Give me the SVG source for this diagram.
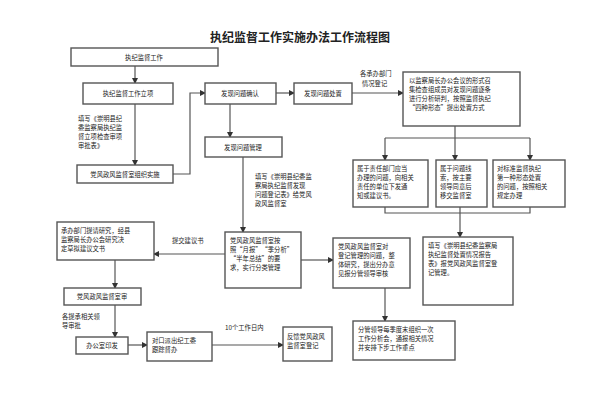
<svg xmlns="http://www.w3.org/2000/svg" width="600" height="400" viewBox="0 0 600 400">
<style>
.b{fill:#fff;stroke:#555;stroke-width:1.4}
text{font-family:"Noto Sans CJK SC","Noto Sans",sans-serif;font-size:6.3px;fill:#222}
.c{stroke:#555;stroke-width:1.2;fill:none;marker-end:url(#a)}
.l{stroke:#555;stroke-width:1.2;fill:none}
</style>
<defs><marker id="a" markerWidth="6" markerHeight="6" refX="5" refY="3" orient="auto" markerUnits="userSpaceOnUse"><path d="M0,0L6,3L0,6z" fill="#333"/></marker></defs>
<rect width="600" height="400" fill="#fff"/>
<text x="300" y="42" text-anchor="middle" style="font-size:12px;font-weight:bold;font-family:'Noto Sans CJK SC',serif">执纪监督工作实施办法工作流程图</text>
<g id="connectors">
<path class="c" d="M135,66V83"/>
<path class="c" d="M135,104V165"/>
<path class="c" d="M173,174H190V93H205"/>
<path class="c" d="M276,93H294"/>
<path class="c" d="M352,93H403"/>
<path class="l" d="M455,126V138M385,138H530"/>
<path class="c" d="M385,138V160"/><path class="c" d="M455,138V160"/><path class="c" d="M530,138V160"/>
<path class="l" d="M385,207V213H530V207M460,207V213"/>
<path class="c" d="M460,213V237"/>
<path class="c" d="M230,104V137"/>
<path class="c" d="M243,157V232"/>
<path class="c" d="M225,254H154"/>
<path class="c" d="M301,260H333"/>
<path class="c" d="M385,288V321"/>
<path class="c" d="M115,260V288"/>
<path class="c" d="M115,305V337"/>
<path class="c" d="M128,345H147"/>
<path class="c" d="M212,345H283"/>
</g>
<g id="n1"><rect class="b" x="71" y="48" width="147" height="18"/><text x="144" y="59.5" text-anchor="middle">执纪监督工作</text></g>
<g id="n2"><rect class="b" x="83" y="83" width="90" height="21"/><text x="128" y="96" text-anchor="middle">执纪监督工作立项</text></g>
<g id="lbl1"><text x="78" y="121">填写《崇明县纪</text><text x="78" y="130">委监察局执纪监</text><text x="78" y="139">督立项检查审项</text><text x="78" y="148">审批表》</text></g>
<g id="n3"><rect class="b" x="77" y="165" width="96" height="18"/><text x="125" y="176.5" text-anchor="middle">党风政风监督室组织实施</text></g>
<g id="n4"><rect class="b" x="205" y="83" width="71" height="21"/><text x="240" y="96" text-anchor="middle">发现问题确认</text></g>
<g id="n5"><rect class="b" x="294" y="83" width="58" height="21"/><text x="323" y="96" text-anchor="middle">发现问题处置</text></g>
<g id="lbl2"><text x="360" y="76">各承办部门</text><text x="362" y="86">情况登记</text></g>
<g id="n6"><rect class="b" x="403" y="72" width="117" height="54"/><text x="409" y="83">以监察局长办公会议的形式召</text><text x="409" y="92">集检查组成员对发现问题逐条</text><text x="409" y="101">进行分析研判，按照监督执纪</text><text x="409" y="110">“四种形态”提出处置方式</text></g>
<g id="n7"><rect class="b" x="353" y="160" width="75" height="47"/><text x="357" y="171">属于责任部门应当</text><text x="357" y="180">办理的问题，向相关</text><text x="357" y="189">责任的单位下发通</text><text x="357" y="198">知或建议书。</text></g>
<g id="n8"><rect class="b" x="436" y="160" width="51" height="47"/><text x="440" y="171">属于问题线</text><text x="440" y="180">索，按主要</text><text x="440" y="189">领导同意后</text><text x="440" y="198">移交监督室</text></g>
<g id="n9"><rect class="b" x="493" y="160" width="72" height="47"/><text x="497" y="171">对标准监督执纪</text><text x="497" y="180">第一种形态处置</text><text x="497" y="189">的问题，按照相关</text><text x="497" y="198">规定办理</text></g>
<g id="n10"><rect class="b" x="205" y="137" width="77" height="20"/><text x="243" y="149.5" text-anchor="middle">发现问题管理</text></g>
<g id="lbl3"><text x="255" y="179">填写《崇明县纪委监</text><text x="255" y="188">察局执纪监督发现</text><text x="255" y="197">问题登记表》给党风</text><text x="255" y="206">政风监督室</text></g>
<g id="n11"><rect class="b" x="225" y="232" width="76" height="56"/><text x="230" y="243">党风政风监督室按</text><text x="230" y="252">照“月报”“季分析”</text><text x="230" y="261">“半年总结”的要</text><text x="230" y="270">求，实行分类管理</text></g>
<g id="n12"><rect class="b" x="57" y="222" width="97" height="38"/><text x="61" y="233">承办部门提请研究，经县</text><text x="61" y="242">监察局长办公会研究决</text><text x="61" y="251">定草拟建议文书</text></g>
<g id="lbl4"><text x="172" y="243">提交建议书</text></g>
<g id="n13"><rect class="b" x="333" y="238" width="77" height="50"/><text x="338" y="249">党风政风监督室对</text><text x="338" y="258">登记管理的问题，整</text><text x="338" y="267">体研究，提出分办意</text><text x="338" y="276">见报分管领导审核</text></g>
<g id="n14"><rect class="b" x="423" y="237" width="90" height="68"/><text x="428" y="248">填写《崇明县纪委监察局</text><text x="428" y="257">执纪监督处置情况报告</text><text x="428" y="266">表》报党风政风监督室登</text><text x="428" y="275">记管理。</text></g>
<g id="n15"><rect class="b" x="353" y="321" width="102" height="39"/><text x="358" y="332">分管领导每季度末组织一次</text><text x="358" y="341">工作分析会，通报相关情况</text><text x="358" y="350">并安排下步工作重点</text></g>
<g id="n16"><rect class="b" x="64" y="288" width="77" height="17"/><text x="102" y="299" text-anchor="middle">党风政风监督室审</text></g>
<g id="lbl5"><text x="62" y="319">各提承相关领</text><text x="62" y="328">导审批</text></g>
<g id="n17"><rect class="b" x="76" y="337" width="52" height="17"/><text x="102" y="348" text-anchor="middle">办公室印发</text></g>
<g id="n18"><rect class="b" x="147" y="332" width="65" height="29"/><text x="152" y="343">对口派出纪工委</text><text x="152" y="352">跟踪督办</text></g>
<g id="lbl6"><text x="225" y="330">10个工作日内</text></g>
<g id="n19"><rect class="b" x="283" y="327" width="49" height="34"/><text x="287" y="339">反馈党风政风</text><text x="287" y="348">监督室登记</text></g>
</svg>
